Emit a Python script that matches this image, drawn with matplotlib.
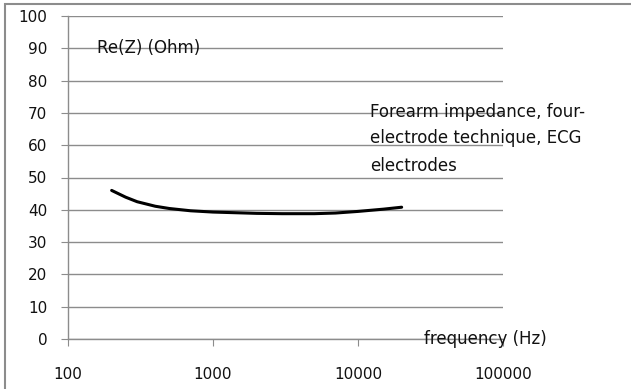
import numpy as np
import matplotlib
matplotlib.use("Agg")
import matplotlib.pyplot as plt
from matplotlib.patches import Rectangle

plt.rcParams['font.family'] = ['DejaVu Sans']

freq = [200, 250, 300, 400, 500, 700, 1000, 2000, 3000, 5000, 7000, 10000, 15000, 20000]
rez = [46.0, 43.9, 42.5, 41.1, 40.4, 39.7, 39.3, 38.9, 38.8, 38.8, 39.0, 39.5, 40.2, 40.8]
yticks = list(range(0, 101, 10))
xticks = [100, 1000, 10000, 100000]
xlabels = ["100", "1000", "10000", "100000"]
note_lines = ["Forearm impedance, four-", "electrode technique, ECG", "electrodes"]

W, H = 631, 389
fig = plt.figure(figsize=(W / 100, H / 100), dpi=100)
ax = fig.add_axes([68 / W, 1 - 339 / H, (503 - 68) / W, (339 - 16) / H])

ax.set_xscale('log')
ax.set_xlim(100, 100000)
ax.set_ylim(0, 100)
ax.set_yticks(yticks)
ax.set_xticks(xticks)
ax.set_xticklabels(xlabels)
ax.xaxis.set_minor_locator(matplotlib.ticker.NullLocator())
ax.grid(True, axis='y', color='#8c8c8c', linewidth=1)
ax.set_axisbelow(True)
for s in ['top', 'right']:
    ax.spines[s].set_visible(False)
for s in ['left', 'bottom']:
    ax.spines[s].set_color('#8c8c8c')
    ax.spines[s].set_linewidth(1)
ax.tick_params(axis='both', colors='#8c8c8c', labelcolor='#111111', labelsize=11, length=5)
ax.tick_params(axis='x', pad=15)
ax.tick_params(axis='y', pad=10)

ax.plot(freq, rez, color='black', linewidth=2.2, solid_capstyle='round')

ax.text(158, 90, "Re(Z) (Ohm)", fontsize=12, va='center', ha='left', color='#111111')
ax.text(28500, 0, "frequency (Hz)", fontsize=12, va='center', ha='left', color='#111111')
for txt, yv in zip(note_lines, [70.2, 62.1, 53.7]):
    ax.text(12100, yv, txt, fontsize=12, va='center', ha='left', color='#111111')

fig.patches.append(Rectangle((5 / W, -0.1), 1.2, (H - 4) / H + 0.1,
                             transform=fig.transFigure, fill=False,
                             edgecolor='#8c8c8c', linewidth=1.5))

fig.savefig("out.png", dpi=100)
